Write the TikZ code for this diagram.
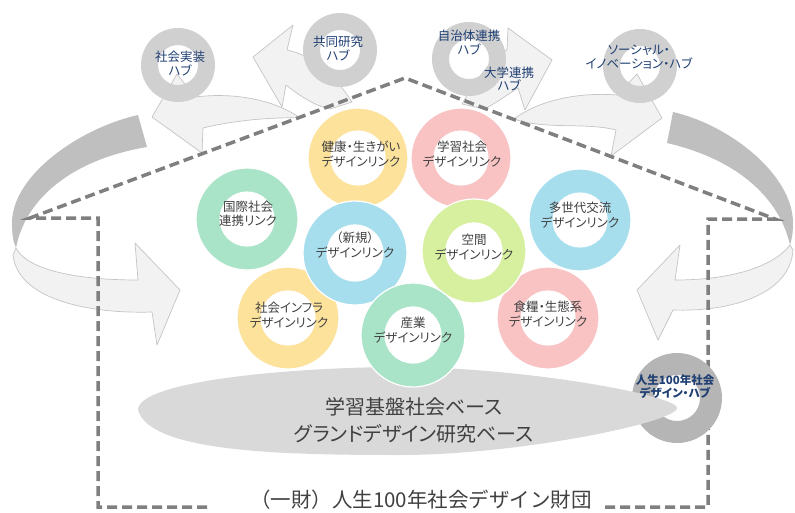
\documentclass[tikz,border=0pt]{standalone}
\usepackage{fontspec}
\newfontfamily\jp[RawFeature=+palt]{Noto Sans CJK JP}
\newfontfamily\jpw{Noto Sans CJK JP}
\definecolor{ringY}{HTML}{FDE29B}
\definecolor{ringP}{HTML}{F9C3C3}
\definecolor{ringM}{HTML}{AAE4C8}
\definecolor{ringB}{HTML}{A7DEEE}
\definecolor{ringL}{HTML}{D7F0A0}
\definecolor{hubgray}{HTML}{D0D0D0}
\definecolor{hubdark}{HTML}{B5B5B5}
\definecolor{ellgray}{HTML}{D9D9D9}
\definecolor{arrowfill}{HTML}{F2F2F2}
\definecolor{arrowline}{HTML}{C4C4C4}
\definecolor{darkband}{HTML}{BFBFBF}
\definecolor{dashgray}{HTML}{7F7F7F}
\definecolor{textgray}{HTML}{404040}
\definecolor{hubblue}{HTML}{1F3F73}
\begin{document}
\begin{tikzpicture}[x=1pt,y=-1pt,
  arrowlight/.style={fill=arrowfill, draw=arrowline, line width=0.7pt, line join=round},
  arrowdark/.style={fill=darkband, draw=none},
  housedash/.style={draw=dashgray, line width=3.5pt, dash pattern=on 10pt off 5pt},
  linkring/.style={fill=#1, draw=white, line width=1.2pt, even odd rule},
  hubring/.style={fill=#1, draw=none, even odd rule},
  linklabel/.style={font=\jp\fontsize{12.5}{14.5}\selectfont, text=textgray, align=center, inner sep=0pt},
  hublabel/.style={font=\jp\fontsize{12.5}{13.5}\selectfont, text=hubblue, align=center, inner sep=0pt}]
\useasboundingbox (0,0) rectangle (795,512);

% ---- block arrows ----
% left U arrow
\path[arrowdark] (138,115) .. controls (80,128) and (12,175) .. (12,223)
  .. controls (12,234) and (13,241) .. (16,248)
  .. controls (25,200) and (70,160) .. (147,147) -- cycle;
\path[arrowlight] (16,248) .. controls (26,268) and (70,280) .. (138,280)
  -- (135,243) -- (180,290) -- (157,345) -- (152,312)
  .. controls (90,314) and (18,300) .. (13,255) -- cycle;
% right U arrow
\path[arrowdark] (673,112) .. controls (730,125) and (793,175) .. (793,223)
  .. controls (793,232) and (792,239) .. (790,245)
  .. controls (780,200) and (740,160) .. (667,143) -- cycle;
\path[arrowlight] (790,245) .. controls (775,265) and (735,280) .. (675,280)
  -- (680,245) -- (637,290) -- (658,340) -- (673,310)
  .. controls (730,312) and (790,295) .. (793,250) -- cycle;
% arrow to 社会実装
\path[arrowlight] (300,118) .. controls (275,100) and (235,92) .. (195,97)
  -- (177,74) -- (152,117) -- (202,153) -- (203,128)
  .. controls (235,120) and (275,117) .. (300,118) -- cycle;
% arrow to 共同研究
\path[arrowlight] (352,102) .. controls (335,75) and (312,55) .. (287,50)
  -- (293,25) -- (253,57) -- (282,107) -- (286,85)
  .. controls (300,96) and (315,106) .. (330,109) -- cycle;
% arrow to 大学連携
\path[arrowlight] (462,104) .. controls (475,80) and (495,55) .. (507,50)
  -- (508,28) -- (552,60) -- (525,110) -- (518,88)
  .. controls (505,96) and (495,104) .. (484,109) -- cycle;
% arrow to ソーシャル
\path[arrowlight] (514,119) .. controls (539,100) and (579,92) .. (617,95)
  -- (637,74) -- (662,118) -- (611,156) -- (616,130)
  .. controls (585,122) and (545,130) .. (514,119) -- cycle;

% ---- dashed house ----
\draw[housedash] (207,507) -- (98,507) -- (98,218) -- (30,218) -- (405,78)
  -- (775,219) -- (708,219) -- (708,507) -- (605,507);

% ---- hubs ----
\path[hubring=hubgray] (178,65) circle (37pt) (178,65) circle (20pt);
\path[hubring=hubgray] (340,50) circle (37pt) (340,50) circle (20pt);
\path[hubring=hubgray] (469,59) circle (37pt) (469,59) circle (20pt);
\path[hubring=hubgray] (640,66) circle (37pt) (640,66) circle (20pt);
\path[hubring=hubdark] (677,398) circle (45pt) (677,398) circle (23pt);

% ---- base ellipse ----
\path[fill=ellgray] (138,410) .. controls (138,380) and (300,367) .. (400,367)
  .. controls (520,367) and (677,395) .. (677,408)
  .. controls (677,422) and (520,455) .. (400,455)
  .. controls (280,455) and (150,452) .. (138,410) -- cycle;

% ---- design link rings ----
\path[linkring=ringY] (358,158) circle (50pt) (358,158) circle (27pt);
\path[linkring=ringP] (461,158) circle (50pt) (461,158) circle (27pt);
\path[linkring=ringM] (247,219) circle (51pt) (247,219) circle (27pt);
\path[linkring=ringB] (580,220) circle (51pt) (580,220) circle (27pt);
\path[linkring=ringP] (548,318) circle (51pt) (548,318) circle (27pt);
\path[linkring=ringY] (288,318) circle (51pt) (288,318) circle (27pt);
\path[linkring=ringB] (355,253) circle (52pt) (355,253) circle (28pt);
\path[linkring=ringL] (474,251) circle (52pt) (474,251) circle (28pt);
\path[linkring=ringM] (413,335) circle (52pt) (413,335) circle (28pt);

% ---- labels ----
\node[linklabel] (kenko) at (361,154) {健康・生きがい\\デザインリンク};
\node[linklabel] (gakushu) at (462,154) {学習社会\\デザインリンク};
\node[linklabel] (kokusai) at (248,214) {国際社会\\連携リンク};
\node[linklabel] (tasedai) at (580,215) {多世代交流\\デザインリンク};
\node[linklabel] (shokuryo) at (548,314) {食糧・生態系\\デザインリンク};
\node[linklabel] (infra) at (289,315) {社会インフラ\\デザインリンク};
\node[linklabel] (shinki) at (355,245) {（新規）\\デザインリンク};
\node[linklabel] (kukan) at (474,247) {空間\\デザインリンク};
\node[linklabel] (sangyo) at (413,330) {産業\\デザインリンク};

\node[hublabel] (jisso) at (180,63.5) {社会実装\\ハブ};
\node[hublabel] (kyodo) at (338,48.5) {共同研究\\ハブ};
\node[hublabel] (jichitai) at (469,42.5) {自治体連携\\ハブ};
\node[hublabel] (daigaku) at (509,79) {大学連携\\ハブ};
\node[hublabel] (social) at (639,57) {ソーシャル・\\イノベーション・ハブ};
\node[hublabel, font=\jp\bfseries\fontsize{11.5}{13}\selectfont] (jinsei) at (675,386.5) {人生100年社会\\デザイン・ハブ};

\node[font=\jp\fontsize{20}{27.5}\selectfont, text=textgray, align=center, inner sep=0pt] (base) at (414,420.5) {学習基盤社会ベース\\グランドデザイン研究ベース};
\node[font=\jpw\fontsize{20.5}{24}\selectfont, text=textgray, inner sep=0pt] (zaidan) at (421,500) {（一財）人生100年社会デザイン財団};
\end{tikzpicture}
\end{document}
